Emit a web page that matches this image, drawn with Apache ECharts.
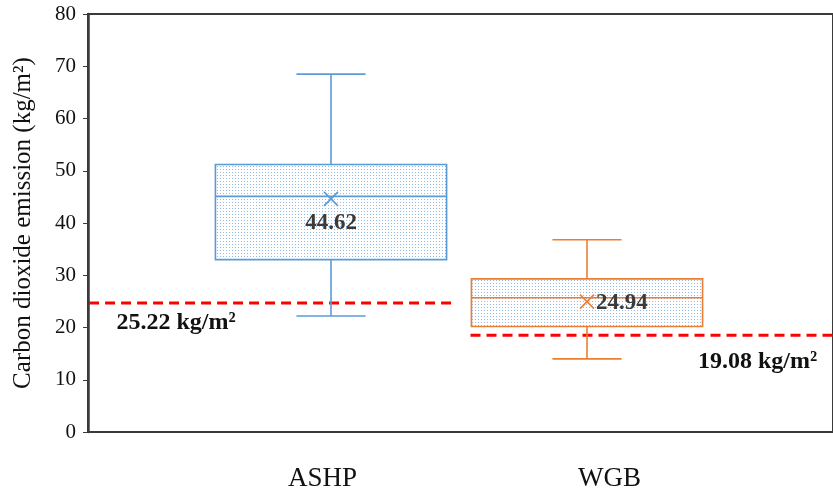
<!DOCTYPE html>
<html><head><meta charset="utf-8">
<script src="https://cdn.jsdelivr.net/npm/echarts@6/dist/echarts.min.js"></script>
<style>html,body{margin:0;padding:0;background:#fff}#c{width:833px;height:496px}</style>
</head><body><div id="c"></div>
<script>
// ---- data ----
const categories = ['ASHP', 'WGB'];
const whiskerMin = [22.2, 14.0];
const q1 = [33.0, 20.2];
const median = [45.1, 25.7];
const q3 = [51.2, 29.3];
const whiskerMax = [68.5, 36.8];
const means = [44.62, 24.94];
const meanLabels = ['44.62', '24.94'];
const thresholdValues = [24.7, 18.5];
const thresholdLabels = ['25.22 kg/m\u00b2', '19.08 kg/m\u00b2'];
const yMin = 0, yMax = 80, yInterval = 10;

// ---- style ----
const FONT = "'Liberation Serif','Times New Roman',serif";
const boxColors = ['#5B9BD5', '#ED7D31'];
const pc = document.createElement('canvas'); pc.width = 3; pc.height = 3;
const pg = pc.getContext('2d');
pg.fillStyle = '#ffffff'; pg.fillRect(0, 0, 3, 3);
pg.fillStyle = '#92bbea'; pg.fillRect(1, 1, 1, 1);
const dotPattern = { type: 'pattern', image: pc, repeat: 'repeat' };

const boxRows = categories.map((c, i) => [i, whiskerMin[i], q1[i], median[i], q3[i], whiskerMax[i], means[i]]);
const thrRows = categories.map((c, i) => [i, thresholdValues[i]]);

function renderBox(params, api) {
  const i = api.value(0);
  const band = api.size([1, 0])[0];
  const cx = api.coord([i, 0])[0];
  const y = k => api.coord([i, api.value(k)])[1];
  const yLo = y(1), yQ1 = y(2), yMed = y(3), yQ3 = y(4), yHi = y(5), yMean = y(6);
  const bw = band * 0.903, cw = band * 0.27;
  const col = boxColors[i];
  const ls = { stroke: col, lineWidth: 1.6 };
  const m = 7;
  const children = [
    { type: 'line', shape: { x1: cx, y1: yQ3, x2: cx, y2: yHi }, style: ls },
    { type: 'line', shape: { x1: cx - cw / 2, y1: yHi, x2: cx + cw / 2, y2: yHi }, style: ls },
    { type: 'line', shape: { x1: cx, y1: yQ1, x2: cx, y2: yLo }, style: ls },
    { type: 'line', shape: { x1: cx - cw / 2, y1: yLo, x2: cx + cw / 2, y2: yLo }, style: ls },
    { type: 'rect', shape: { x: cx - bw / 2, y: yQ3, width: bw, height: yQ1 - yQ3 }, style: { fill: dotPattern, stroke: col, lineWidth: 1.6 } },
    { type: 'line', shape: { x1: cx - bw / 2, y1: yMed, x2: cx + bw / 2, y2: yMed }, style: ls },
    { type: 'line', shape: { x1: cx - m, y1: yMean - m, x2: cx + m, y2: yMean + m }, style: ls },
    { type: 'line', shape: { x1: cx - m, y1: yMean + m, x2: cx + m, y2: yMean - m }, style: ls }
  ];
  const below = i === 0;
  children.push({
    type: 'text',
    style: {
      text: meanLabels[i], x: below ? cx : cx + 9, y: below ? yMean + 24 : yMean + 1,
      align: below ? 'center' : 'left', verticalAlign: 'middle',
      font: 'bold 23px ' + FONT, fill: '#3a3a3a'
    }
  });
  return { type: 'group', children };
}

function renderThreshold(params, api) {
  const i = api.value(0);
  const band = api.size([1, 0])[0];
  const cx = api.coord([i, 0])[0];
  const yv = api.coord([i, api.value(1)])[1];
  const x1 = i === 0 ? cx - band * 0.945 : cx - band * 0.455;
  const x2 = i === 0 ? cx + band * 0.475 : cx + band * 0.97;
  const tx = i === 0 ? cx - band * 0.605 : cx + band * 0.666;
  const ty = i === 0 ? yv + 20 : yv + 26;
  return {
    type: 'group',
    children: [
      { type: 'line', shape: { x1, y1: yv, x2, y2: yv }, style: { stroke: '#FF0000', lineWidth: 3, lineDash: [10, 6] } },
      { type: 'text', style: { text: thresholdLabels[i], x: tx, y: ty, align: 'center', verticalAlign: 'middle', font: 'bold 24px ' + FONT, fill: '#111' } }
    ]
  };
}

const chart = echarts.init(document.getElementById('c'), null, { renderer: 'canvas' });
const yBase = { type: 'value', min: yMin, max: yMax, interval: yInterval };
chart.setOption({
  animation: false,
  backgroundColor: '#fff',
  grid: [
    { left: 88, right: -20, top: 14, bottom: 64, show: true, borderColor: '#3a3a3a', borderWidth: 2, backgroundColor: 'transparent' },
    { left: 203, width: 512, top: 14, bottom: 64 },
    { left: 179, width: 574, top: 14, bottom: 64 }
  ],
  xAxis: [
    { gridIndex: 0, type: 'category', data: categories, axisLine: { lineStyle: { color: '#3a3a3a', width: 2 } }, axisTick: { show: false }, axisLabel: { show: false } },
    { gridIndex: 1, type: 'category', data: categories, show: false },
    { gridIndex: 2, type: 'category', data: categories, axisLine: { show: false }, axisTick: { show: false },
      axisLabel: { fontFamily: FONT, fontSize: 27, color: '#111', margin: 33 } }
  ],
  yAxis: [
    Object.assign({}, yBase, {
      gridIndex: 0,
      name: 'Carbon dioxide emission (kg/m\u00b2)', nameLocation: 'middle', nameGap: 52,
      nameTextStyle: { fontFamily: FONT, fontSize: 25, color: '#111' },
      axisLine: { show: true, lineStyle: { color: '#3a3a3a', width: 2.5 } },
      axisTick: { show: true, inside: false, length: 5, lineStyle: { color: '#3a3a3a' } },
      axisLabel: { fontFamily: FONT, fontSize: 21, color: '#111', margin: 12 },
      splitLine: { show: false }
    }),
    Object.assign({}, yBase, { gridIndex: 1, show: false, splitLine: { show: false } }),
    Object.assign({}, yBase, { gridIndex: 2, show: false, splitLine: { show: false } })
  ],
  series: [
    { type: 'custom', xAxisIndex: 1, yAxisIndex: 1, clip: false, renderItem: renderThreshold, data: thrRows, z: 3 },
    { type: 'custom', xAxisIndex: 1, yAxisIndex: 1, clip: false, renderItem: renderBox, data: boxRows, z: 4 }
  ]
});
</script></body></html>
